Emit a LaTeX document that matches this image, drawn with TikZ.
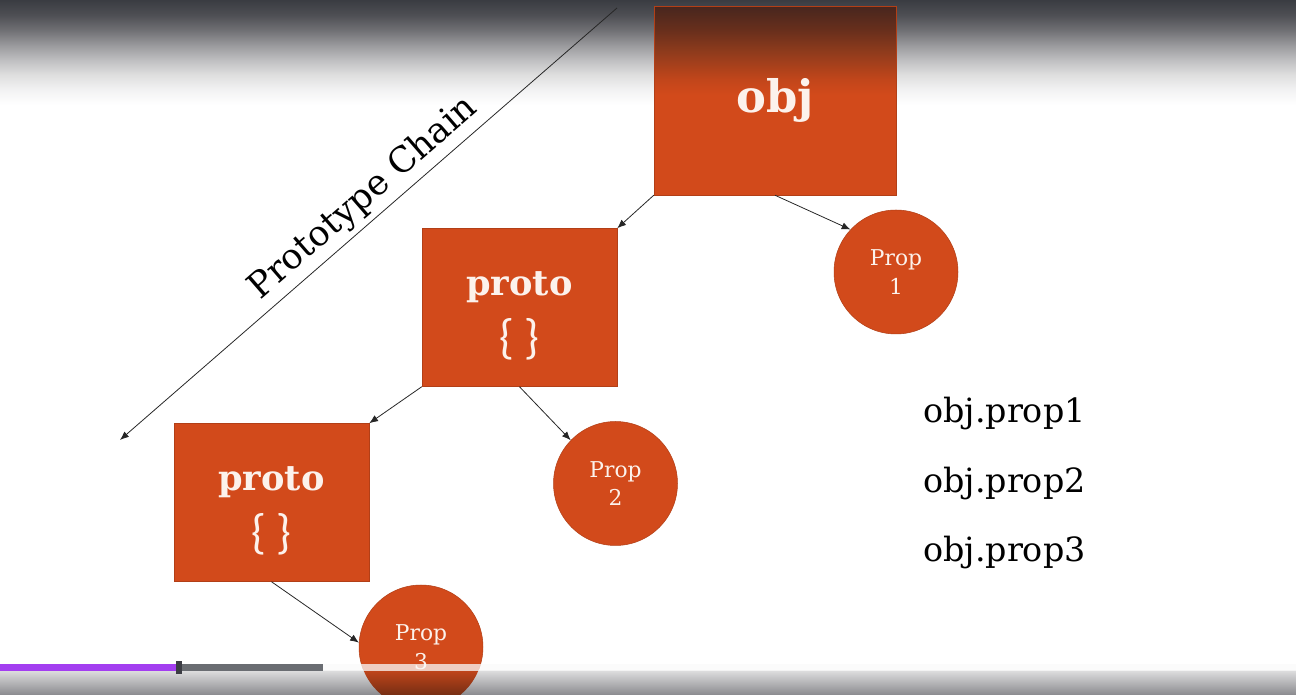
\documentclass[tikz,border=0pt]{standalone}
\usepackage{fontspec}
\setmainfont{DejaVu Serif}
\newfontfamily\bracefont{Lato}
\usetikzlibrary{arrows.meta}
\definecolor{rust}{RGB}{210,74,27}
\definecolor{cream}{RGB}{252,242,236}
\definecolor{shade}{RGB}{58,60,66}
\definecolor{barpurple}{RGB}{163,62,240}
\definecolor{bargray}{RGB}{106,109,114}
\definecolor{handle}{RGB}{60,61,68}
% top band greys, from light to dark
\definecolor{tbA}{RGB}{242,242,243}
\definecolor{tbB}{RGB}{222,222,222}
\definecolor{tbC}{RGB}{192,192,194}
\definecolor{tbD}{RGB}{154,154,157}
\definecolor{tbE}{RGB}{112,112,116}
\definecolor{tbF}{RGB}{78,79,84}
% darkened top of the obj box
\definecolor{obA}{RGB}{194,70,27}
\definecolor{obB}{RGB}{139,58,28}
\definecolor{obC}{RGB}{105,47,28}
\definecolor{obD}{RGB}{71,38,30}
% bottom band
\definecolor{bbTop}{RGB}{220,220,221}
\definecolor{bbBot}{RGB}{138,138,142}
\definecolor{brTop}{RGB}{190,68,26}
\definecolor{brBot}{RGB}{118,46,20}
% the path is mapped onto the 25bp--75bp part of a shading
\pgfdeclareverticalshading{topband}{100bp}{color(0bp)=(white); color(25bp)=(white);
  color(26.5bp)=(white); color(33.5bp)=(tbA); color(40.5bp)=(tbB); color(47bp)=(tbC);
  color(54bp)=(tbD); color(61bp)=(tbE); color(68bp)=(tbF); color(75bp)=(shade);
  color(100bp)=(shade)}
\pgfdeclareverticalshading{objtop}{100bp}{color(0bp)=(rust); color(51.5bp)=(rust);
  color(55.5bp)=(obA); color(63.5bp)=(obB); color(68.5bp)=(obC); color(75bp)=(obD);
  color(100bp)=(obD)}
\pgfdeclareverticalshading{bottomband}{100bp}{color(0bp)=(bbBot); color(25bp)=(bbBot);
  color(75bp)=(bbTop); color(100bp)=(bbTop)}
\pgfdeclareverticalshading{bottomrust}{100bp}{color(0bp)=(brBot); color(25bp)=(brBot);
  color(75bp)=(brTop); color(100bp)=(brTop)}

\begin{document}
\begin{tikzpicture}[x=0.02cm, y=-0.02cm,
  box/.style={rectangle, fill=rust, draw=rust!85!black, line width=0.3pt,
    text=cream, align=center, inner sep=0pt},
  propnode/.style={circle, fill=rust, draw=rust!85!black, line width=0.3pt,
    text=cream, align=center, minimum size=2.48cm, inner sep=0pt,
    font=\fontsize{12.4}{16.4}\selectfont},
  protobox/.style={box, minimum width=3.9cm, minimum height=3.16cm,
    font=\bfseries\fontsize{20}{31}\selectfont},
  link/.style={draw=black!85, line width=0.45pt, -{Latex[length=5pt,width=4pt]}},
  access/.style={anchor=base west, font=\fontsize{19}{22}\selectfont}
]
\useasboundingbox (0,0) rectangle (1296,695);
\fill[white] (0,0) rectangle (1296,695);
\shade[shading=topband] (0,0) rectangle (1296,108);

% objects
\node[box, shade, shading=objtop, minimum width=4.84cm, minimum height=3.78cm,
  font=\bfseries\fontsize{25.5}{30}\selectfont] (obj) at (775,100.5) {obj};
\node[protobox] (proto1) at (519.5,307.5)
  {\rule{0pt}{23pt}proto\\[2pt]{\bracefont\mdseries\fontsize{26}{31}\selectfont\{ \}}};
\node[protobox] (proto2) at (271.5,502.5)
  {\rule{0pt}{23pt}proto\\[2pt]{\bracefont\mdseries\fontsize{26}{31}\selectfont\{ \}}};

% properties
\node[propnode] (p1) at (896,272) {Prop\\1};
\node[propnode] (p2) at (615.5,483.5) {Prop\\2};
\node[propnode] (p3) at (421,647) {Prop\\3};

% links
\draw[link] (obj.south west) -- (proto1.north east);
\draw[link] (obj.south) -- (p1.137);
\draw[link] (proto1.south west) -- (proto2.north east);
\draw[link] (proto1.south) -- (p2.136);
\draw[link] (proto2.south) -- (p3.176);

% chain direction
\coordinate (chaintop) at (617,8);
\coordinate (chainend) at (120,440);
\draw[link] (chaintop) -- node[sloped, above=2pt, inner sep=1pt, pos=0.48,
  font=\fontsize{20}{24}\selectfont] (chainlabel) {Prototype Chain} (chainend);

% property access
\node[access] (a1) at (917,423) {obj.prop1};
\node[access] (a2) at (917,492.5) {obj.prop2};
\node[access] (a3) at (917,562) {obj.prop3};

% bottom shade, darker over the third property
\begin{scope}
  \clip (0,671) rectangle (1296,695);
  \shade[shading=bottomband] (0,671) rectangle (1296,695);
  \clip (p3.center) circle[radius=1.24cm];
  \shade[shading=bottomrust] (0,671) rectangle (1296,695);
\end{scope}
% player bar
\fill[white!96!gray, opacity=0.75] (0,664) rectangle (1296,671);
\fill[barpurple] (0,664) rectangle (180,671);
\fill[bargray] (180,664) rectangle (323,671);
\fill[handle] (175.5,661.5) rectangle (181.5,674);
\end{tikzpicture}
\end{document}
